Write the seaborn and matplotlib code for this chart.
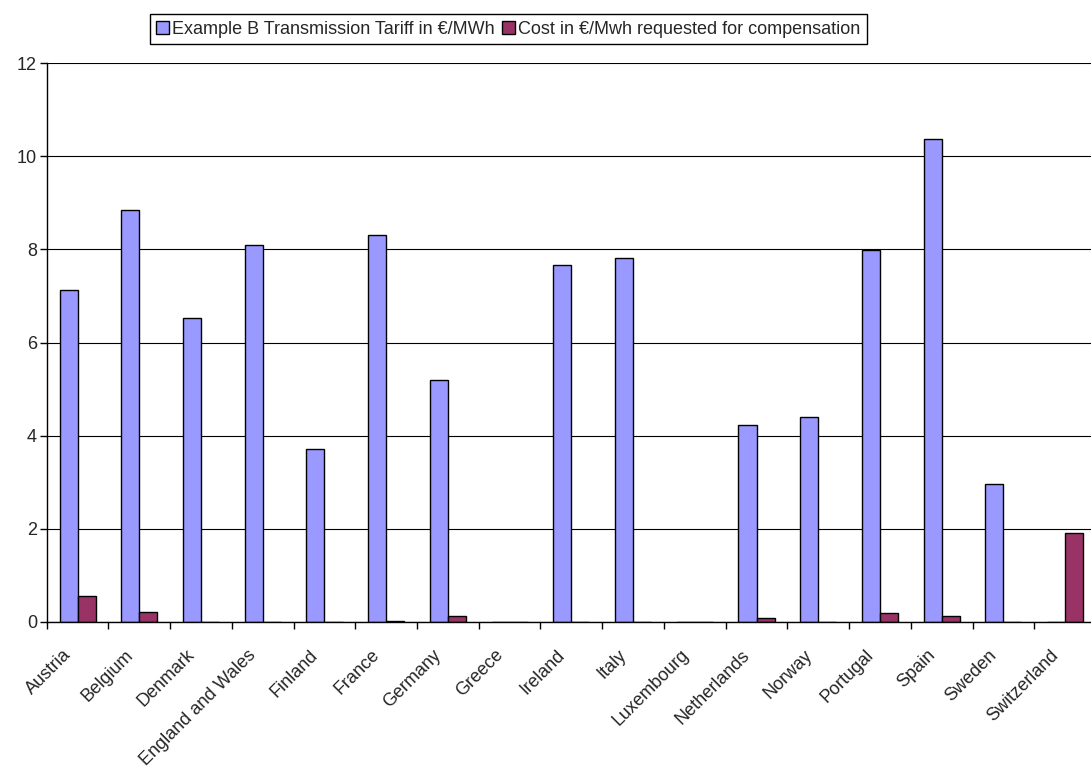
from matplotlib import pyplot as plt
from matplotlib.patches import Patch
from matplotlib.ticker import MultipleLocator
from matplotlib.transforms import ScaledTranslation
import pandas as pd
import seaborn as sns
import numpy as np

# krajiny
countries = ['Austria', 'Belgium', 'Denmark', 'England and Wales', 'Finland',
             'France', 'Germany', 'Greece', 'Ireland', 'Italy', 'Luxembourg',
             'Netherlands', 'Norway', 'Portugal', 'Spain', 'Sweden', 'Switzerland']
# hodnoty odcitane z grafu
tariff = [7.12, 8.84, 6.53, 8.09, 3.72, 8.31, 5.20, 0.0, 7.66, 7.81, 0.0,
          4.23, 4.39, 7.98, 10.36, 2.96, 0.0]
compensation = [0.56, 0.22, 0.0, 0.0, 0.0, 0.02, 0.12, 0.0, 0.0, 0.01, 0.0,
                0.09, 0.0, 0.195, 0.13, 0.0, 1.91]
series_names = ['Example B Transmission Tariff in €/MWh',
                'Cost in €/Mwh requested for compensation']
colors = ['#9999FF', '#993366']

df = pd.DataFrame({
    'country': countries * 2,
    'value': tariff + compensation,
    'series': [series_names[0]] * len(countries) + [series_names[1]] * len(countries),
})

sns.set_style('white')
plt.rcParams['font.family'] = ['Liberation Sans', 'DejaVu Sans']

fig = plt.figure(figsize=(10.91, 7.69), dpi=100)
ax = fig.add_axes([0.0428, 0.1912, 1.0046 - 0.0428, 0.918 - 0.1912])

sns.barplot(data=df, x='country', y='value', hue='series', palette=colors,
            saturation=1, width=0.585, edgecolor='black', linewidth=1.0,
            ax=ax, legend=False)

# osi a mriezka
ax.set_ylim(0, 12)
ax.set_xlim(-0.5, len(countries) - 0.5)
ax.yaxis.set_major_locator(MultipleLocator(2))
ax.grid(axis='y', color='black', linewidth=0.8)
ax.set_axisbelow(True)
for s in ['top', 'right']:
    ax.spines[s].set_visible(False)
for s in ['left', 'bottom']:
    ax.spines[s].set_color('black')
    ax.spines[s].set_linewidth(1.0)
ax.set_xlabel('')
ax.set_ylabel('')

ax.tick_params(axis='y', left=True, length=5, width=1, color='black',
               labelsize=13, pad=2)
ax.tick_params(axis='x', which='major', length=0, labelsize=13, pad=22)
ax.set_xticks(np.arange(len(countries) + 1) - 0.5, minor=True)
ax.tick_params(axis='x', which='minor', bottom=True, length=5, width=1,
               color='black')
# popisky otocene o 45 stupnov, trochu posunute dolava
shift = ScaledTranslation(-9 / 100, 0, fig.dpi_scale_trans)
for lbl in ax.get_xticklabels():
    lbl.set_rotation(45)
    lbl.set_ha('right')
    lbl.set_va('center')
    lbl.set_rotation_mode('anchor')
    lbl.set_transform(lbl.get_transform() + shift)

# legenda hore
handles = [Patch(facecolor=c, edgecolor='black', linewidth=1.0) for c in colors]
fig.legend(handles, series_names, loc='center', bbox_to_anchor=(0.466, 0.962),
           ncol=2, fontsize=13, frameon=True, fancybox=False, edgecolor='black',
           framealpha=1, handlelength=0.7, handleheight=0.7, handletextpad=0.2,
           columnspacing=0.4, borderpad=0.35)
fig.legends[0].get_frame().set_linewidth(1.0)

plt.savefig('out.png', dpi=100)
plt.close(fig)
